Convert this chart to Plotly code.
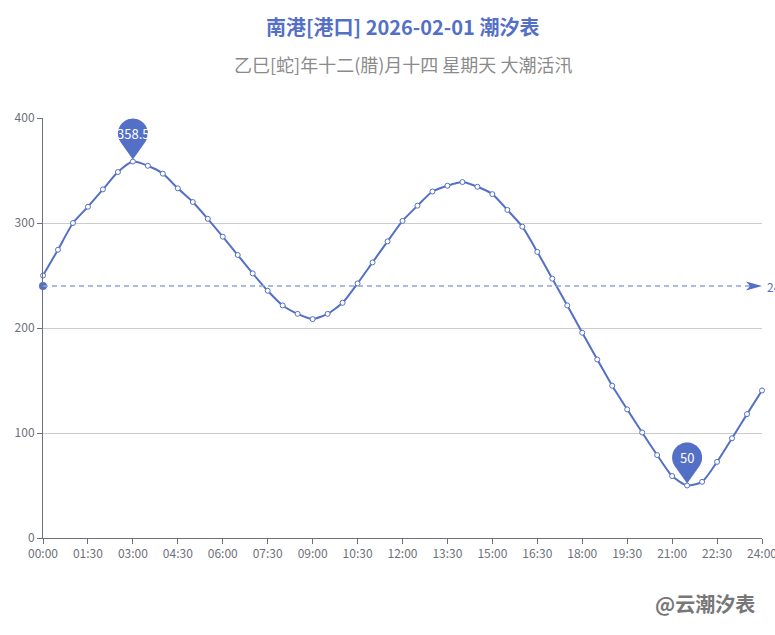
import math
import plotly.graph_objects as go

# ---- data ----
hours = [i * 0.5 for i in range(49)]
tide = [250, 274.5, 300, 315.5, 332, 348.5, 358.5, 354.5, 347, 333, 320, 304,
        287, 269.5, 252, 235.5, 221.5, 213.5, 208.5, 213.5, 224, 242.5, 262.5, 282.5,
        302, 316.5, 330, 335.5, 339, 334.5, 327.5, 312.5, 296.5, 272.5, 247, 221.5,
        195.5, 170, 145, 122.5, 100.5, 79, 59, 50, 53.5, 72.5, 95, 118, 140.5]
tick_vals = [i * 1.5 for i in range(17)]
tick_text = ["00:00", "01:30", "03:00", "04:30", "06:00", "07:30", "09:00", "10:30",
             "12:00", "13:30", "15:00", "16:30", "18:00", "19:30", "21:00", "22:30", "24:00"]
peak_points = [(3.0, 358.5, "358.5"), (21.5, 50, "50")]
ref_level = 240
ref_label = "240"

title = "南港[港口] 2026-02-01 潮汐表"
subtitle = "乙巳[蛇]年十二(腊)月十四 星期天 大潮活汛"
watermark = "@云潮汐表"

BLUE = "#5470c6"
FONT = "Noto Sans CJK SC"

fig = go.Figure()

fig.add_trace(go.Scatter(
    x=hours, y=tide, mode="lines+markers",
    line=dict(color=BLUE, width=2, shape="spline", smoothing=0.6),
    marker=dict(symbol="circle", size=5, color="white", line=dict(color=BLUE, width=1)),
    hoverinfo="x+y", showlegend=False, cliponaxis=False,
))

# reference (mark) line
fig.add_shape(type="line", x0=hours[0], x1=hours[-1], y0=ref_level, y1=ref_level,
              xref="x", yref="y", line=dict(color="#8ea2e0", width=1.5, dash="5px,4px"),
              layer="above")
fig.add_trace(go.Scatter(x=[hours[0]], y=[ref_level], mode="markers",
                         marker=dict(size=8, color=BLUE), showlegend=False,
                         cliponaxis=False, hoverinfo="skip"))
arrow_path = "M 0 0 L -16 4.5 L -12 0 L -16 -4.5 Z"
fig.add_shape(type="path", xref="x", yref="y", xsizemode="pixel", ysizemode="pixel",
              xanchor=hours[-1], yanchor=ref_level, path=arrow_path,
              fillcolor=BLUE, line=dict(color=BLUE, width=0), layer="above")
fig.add_annotation(x=hours[-1], y=ref_level, text=ref_label, showarrow=False,
                   xanchor="left", xshift=3, font=dict(family=FONT, size=12, color=BLUE))

# pins
def pin_path(r=15.0, cy=28.0, tip=2.0):
    d = cy - tip
    th = math.acos(r / d)
    pts = [(0.0, tip)]
    start = -math.pi / 2 + th
    end = -math.pi / 2 - th + 2 * math.pi
    n = 40
    for k in range(n + 1):
        a = start + (end - start) * k / n
        pts.append((r * math.cos(a), cy + r * math.sin(a)))
    return "M " + " L ".join(f"{x:.2f} {y:.2f}" for x, y in pts) + " Z"

pp = pin_path()
for px, py, lab in peak_points:
    fig.add_shape(type="path", xref="x", yref="y", xsizemode="pixel", ysizemode="pixel",
                  xanchor=px, yanchor=py, path=pp, fillcolor=BLUE,
                  line=dict(color=BLUE, width=0), layer="above")
    fig.add_annotation(x=px, y=py, text=lab, showarrow=False, yshift=28,
                       font=dict(family=FONT, size=13, color="white"))

# titles
fig.add_annotation(xref="paper", yref="paper", x=0.5, y=1.2167, text=f"<b>{title}</b>",
                   showarrow=False, xanchor="center", yanchor="middle",
                   font=dict(family=FONT, size=20, color=BLUE))
fig.add_annotation(xref="paper", yref="paper", x=0.5, y=1.1274, text=subtitle,
                   showarrow=False, xanchor="center", yanchor="middle",
                   font=dict(family=FONT, size=18, color="#8a8a8a"))
fig.add_annotation(xref="paper", yref="paper", x=0.993, y=-0.157, text=f"<b>{watermark}</b>",
                   showarrow=False, xanchor="right", yanchor="middle",
                   font=dict(family=FONT, size=20, color="#777777"))

fig.update_layout(
    width=775, height=635,
    margin=dict(l=43, r=13, t=118, b=97, autoexpand=False),
    paper_bgcolor="white", plot_bgcolor="white",
    font=dict(family=FONT, size=12, color="#6e7079"),
    showlegend=False,
    xaxis=dict(range=[0, 24], tickmode="array", tickvals=tick_vals, ticktext=tick_text,
               showgrid=False, zeroline=False, showline=True, linecolor="#6e7079",
               linewidth=1, ticks="outside", ticklen=5, tickcolor="#6e7079",
               ticklabeloverflow="allow",
               tickfont=dict(size=12, color="#6e7079")),
    yaxis=dict(range=[0, 400], tickmode="array", tickvals=[0, 100, 200, 300, 400],
               showgrid=True, gridcolor="#cccccc", gridwidth=1, zeroline=False,
               showline=True, linecolor="#6e7079", linewidth=1, ticks="outside",
               ticklen=5, tickcolor="#6e7079", tickfont=dict(size=12, color="#6e7079")),
)

fig.write_html("out.html", config={"displayModeBar": False},
               post_script="document.body.style.margin='0';document.body.style.overflow='hidden';")
